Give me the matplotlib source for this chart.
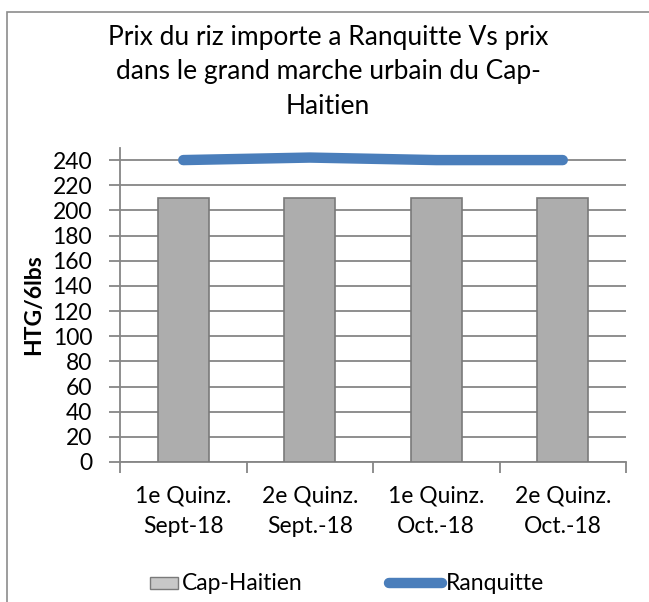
import matplotlib
matplotlib.use("Agg")
import matplotlib.pyplot as plt
import numpy as np
from matplotlib.patches import Rectangle
from matplotlib.lines import Line2D

categories = ["1e Quinz.\nSept-18", "2e Quinz.\nSept.-18", "1e Quinz.\nOct.-18", "2e Quinz.\nOct.-18"]
cap_haitien = [210, 210, 210, 210]
ranquitte = [240, 242, 240, 240]
yticks = list(range(0, 241, 20))
series_names = ["Cap-Haitien", "Ranquitte"]

plt.rcParams['font.family'] = ['Lato', 'DejaVu Sans']
FS = 16.5
BLUE = '#4a7ebb'

fig = plt.figure(figsize=(6.49, 6.02), dpi=100)
ax = fig.add_axes([120/649, 1-462/602, (626-120)/649, (462-147.5)/602])

x = np.arange(len(categories))
ax.bar(x, cap_haitien, width=0.4, color='#adadad', edgecolor='#7a7a7a', linewidth=1.2, zorder=3)
ax.plot(x, ranquitte, color=BLUE, linewidth=7.5, solid_capstyle='round', zorder=4)

ax.set_xlim(-0.5, len(categories) - 0.5)
ax.set_ylim(0, 250)
ax.set_yticks(yticks)
ax.set_yticklabels([str(v) for v in yticks], fontsize=FS)
ax.yaxis.grid(True, color='#868686', linewidth=1.3, zorder=0)
ax.set_axisbelow(True)

ax.set_xticks(np.arange(-0.5, len(categories), 1.0))
ax.set_xticklabels([])
ax.set_xticks(x, minor=True)
ax.set_xticklabels(categories, minor=True, fontsize=FS, linespacing=1.55)
ax.tick_params(axis='x', which='minor', length=0, pad=17)
ax.tick_params(axis='x', which='major', length=8, color='#868686', width=1.3)
ax.tick_params(axis='y', length=8, color='#868686', width=1.3, pad=12)

for s in ['top', 'right']:
    ax.spines[s].set_visible(False)
for s in ['left', 'bottom']:
    ax.spines[s].set_color('#868686')
    ax.spines[s].set_linewidth(1.3)

ax.set_ylabel("HTG/6lbs", fontsize=FS, fontweight='bold', labelpad=6)

fig.text(328/649, 1-72/602, "Prix du riz importe a Ranquitte Vs prix\ndans le grand marche urbain du Cap-\nHaitien",
         ha='center', va='center', fontsize=19, linespacing=1.45)

# legend (drawn manually to match the handle sizes)
W, H = 649, 602
fig.add_artist(Rectangle((150/W, 1-589/H), 28/W, 12/H, transform=fig.transFigure,
                         facecolor='#c8c8c8', edgecolor='#7a7a7a', linewidth=1))
fig.text(182/W, 1-583/H, series_names[0], ha='left', va='center', fontsize=FS)
fig.add_artist(Line2D([389/W, 442/W], [1-583/H, 1-583/H], transform=fig.transFigure,
                      color=BLUE, linewidth=7.5, solid_capstyle='round'))
fig.text(446/W, 1-583/H, series_names[1], ha='left', va='center', fontsize=FS)

# chart border
fig.add_artist(Rectangle((7/W, -0.1), 1.2, 1.1 - 12/H, transform=fig.transFigure,
                         fill=False, edgecolor='#8c8c8c', linewidth=1.2))

fig.savefig("out.png", dpi=100)
